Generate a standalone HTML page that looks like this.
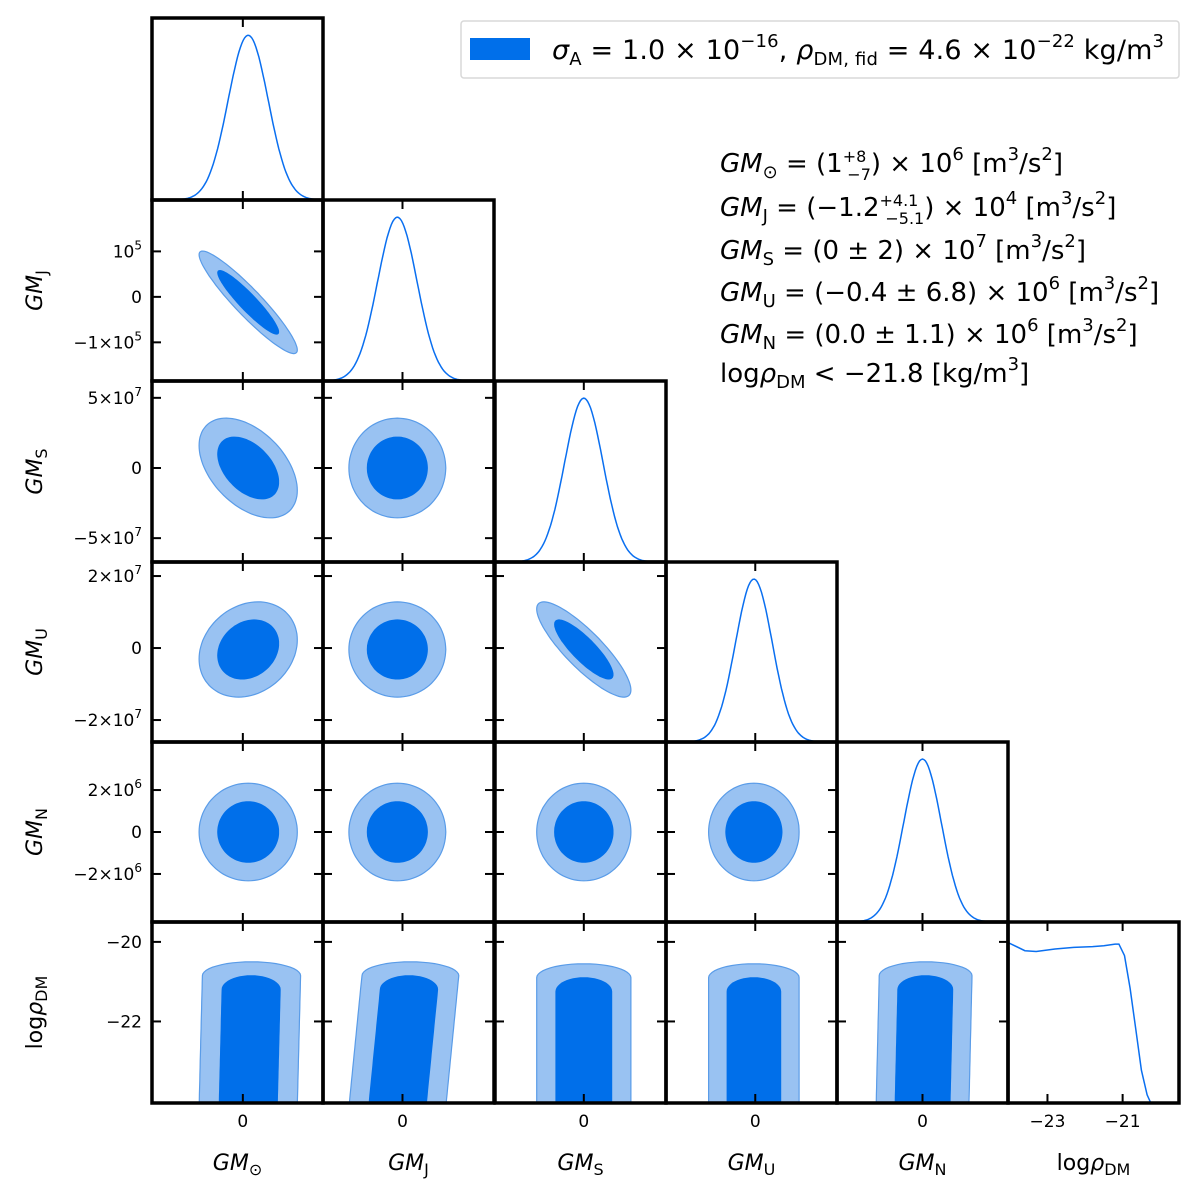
<!DOCTYPE html>
<html><head><meta charset="utf-8"><style>
body{margin:0;background:#fff}
svg{display:block;font-family:"DejaVu Sans","Liberation Sans",sans-serif}
</style></head><body>
<svg id="fig" width="1200" height="1199" viewBox="0 0 1200 1199" xmlns="http://www.w3.org/2000/svg">
<rect width="1200" height="1199" fill="#fff"/>
<g id="marks"></g>
<g id="frames"></g>
<g id="labels"></g>
<g>
<rect x="461" y="21" width="718" height="57" rx="3" fill="#fff" stroke="#d8d8d8" stroke-width="1.5"/>
<rect x="470" y="38" width="60" height="22" fill="#006fea"/>
<text x="552" y="59" font-size="27" fill="#000" textLength="612" lengthAdjust="spacing"><tspan font-style="italic">σ</tspan><tspan font-size="18" dy="6">A</tspan><tspan dy="-6"> = 1.0 × 10</tspan><tspan font-size="18" dy="-12">−16</tspan><tspan dy="12">, </tspan><tspan font-style="italic">ρ</tspan><tspan font-size="18" dy="6">DM, fid</tspan><tspan dy="-6"> = 4.6 × 10</tspan><tspan font-size="18" dy="-12">−22</tspan><tspan dy="12"> kg/m</tspan><tspan font-size="18" dy="-12">3</tspan></text>
</g>
<g font-size="26" fill="#000">
<text x="720" y="172"><tspan font-style="italic">GM</tspan><tspan font-size="18" dy="6">⊙</tspan><tspan dy="-6"> = (1</tspan><tspan font-size="16" dy="-10">+8</tspan><tspan font-size="16" dx="-19" dy="18">−7</tspan><tspan dy="-8">) × 10</tspan><tspan font-size="18" dy="-12">6</tspan><tspan dy="12"> [m</tspan><tspan font-size="18" dy="-12">3</tspan><tspan dy="12">/s</tspan><tspan font-size="18" dy="-12">2</tspan><tspan dy="12">]</tspan></text>
<text x="720" y="216"><tspan font-style="italic">GM</tspan><tspan font-size="18" dy="6">J</tspan><tspan dy="-6"> = (−1.2</tspan><tspan font-size="16" dy="-10">+4.1</tspan><tspan font-size="16" dx="-33" dy="18">−5.1</tspan><tspan dy="-8">) × 10</tspan><tspan font-size="18" dy="-12">4</tspan><tspan dy="12"> [m</tspan><tspan font-size="18" dy="-12">3</tspan><tspan dy="12">/s</tspan><tspan font-size="18" dy="-12">2</tspan><tspan dy="12">]</tspan></text>
<text x="720" y="259"><tspan font-style="italic">GM</tspan><tspan font-size="18" dy="6">S</tspan><tspan dy="-6"> = (0 ± 2) × 10</tspan><tspan font-size="18" dy="-12">7</tspan><tspan dy="12"> [m</tspan><tspan font-size="18" dy="-12">3</tspan><tspan dy="12">/s</tspan><tspan font-size="18" dy="-12">2</tspan><tspan dy="12">]</tspan></text>
<text x="720" y="301"><tspan font-style="italic">GM</tspan><tspan font-size="18" dy="6">U</tspan><tspan dy="-6"> = (−0.4 ± 6.8) × 10</tspan><tspan font-size="18" dy="-12">6</tspan><tspan dy="12"> [m</tspan><tspan font-size="18" dy="-12">3</tspan><tspan dy="12">/s</tspan><tspan font-size="18" dy="-12">2</tspan><tspan dy="12">]</tspan></text>
<text x="720" y="343"><tspan font-style="italic">GM</tspan><tspan font-size="18" dy="6">N</tspan><tspan dy="-6"> = (0.0 ± 1.1) × 10</tspan><tspan font-size="18" dy="-12">6</tspan><tspan dy="12"> [m</tspan><tspan font-size="18" dy="-12">3</tspan><tspan dy="12">/s</tspan><tspan font-size="18" dy="-12">2</tspan><tspan dy="12">]</tspan></text>
<text x="720" y="382">log<tspan font-style="italic">ρ</tspan><tspan font-size="18" dy="6">DM</tspan><tspan dy="-6"> &lt; −21.8 [kg/m</tspan><tspan font-size="18" dy="-12">3</tspan><tspan dy="12">]</tspan></text>
</g>
</svg>
<script>
// ---- data ----
const paramNames = ["sun","J","S","U","N","rho"];
const paramLo = [-34, -18.5, -6.7, -26.1, -4.29, -24.05];
const paramHi = [30, 21.3, 6.2, 23.9, 4.29, -19.5];
const paramMean = [2, -1.2, 0, -0.4, 0, -22];
const paramSigma = [7.5, 4.6, 1.45, 5.4, 0.95, 1];
// correlations [row][col] for row>col among first 5 params
const corrRows = [
  [],
  [-0.93],
  [-0.45, 0.0],
  [0.2, 0.0, -0.85],
  [0.0, 0.0, 0.0, 0.0]
];
// log rho marginal samples
const rhoGrid = [-24.05,-23.6,-23.3,-22.8,-22.3,-21.8,-21.5,-21.2,-21.1,-20.95,-20.8,-20.65,-20.5,-20.35,-20.25,-19.5];
const rhoDens = [0.98,0.93,0.925,0.94,0.95,0.955,0.96,0.97,0.97,0.9,0.7,0.45,0.2,0.05,0,0];
// bottom-row band tops (log rho) and skew (sigma shift per unit log rho)
const bandOuterTop = [-20.5,-20.5,-20.55,-20.55,-20.5];
const bandInnerTop = [-20.85,-20.85,-20.9,-20.9,-20.85];
const bandSkew = [0.05,0.2,0,0,0.05];
// tick labels
const yTickVals = [[],[10,0,-10],[5,0,-5],[20,0,-20],[2,0,-2],[-20,-22]];
const yTickText = [[],[["10","5"],["0",""],["−1×10","5"]],[["5×10","7"],["0",""],["−5×10","7"]],[["2×10","7"],["0",""],["−2×10","7"]],[["2×10","6"],["0",""],["−2×10","6"]],[["−20",""],["−22",""]]];
const xTickVals = [[0],[0],[0],[0],[0],[-23,-21]];
const xTickText = [["0"],["0"],["0"],["0"],["0"],["−23","−21"]];
const axisSubs = ["⊙","J","S","U","N","DM"];

// ---- layout ----
const colX=[152,323,495,666,837,1008], W=171;
const rowY=[18,200,381,562,742,922,1103];
const NS="http://www.w3.org/2000/svg";
const marks=document.getElementById('marks'), frames=document.getElementById('frames'), labels=document.getElementById('labels');
function el(t,a,p){const e=document.createElementNS(NS,t);for(const k in a)e.setAttribute(k,a[k]);p.appendChild(e);return e;}
function xs(i,v){return colX[i]+(v-paramLo[i])/(paramHi[i]-paramLo[i])*W;}
function ys(i,v){const t=rowY[i],b=rowY[i+1];return b-(v-paramLo[i])/(paramHi[i]-paramLo[i])*(b-t);}
const OUT="#99c2f2", OUTS="#5a9ce8", IN="#006fea", LINE="#0a6ff0";

function ellipse(r,c,rho,k){
  let d="";
  for(let j=0;j<=96;j++){const th=j/96*2*Math.PI;
    const u=paramMean[c]+k*paramSigma[c]*Math.cos(th);
    const v=paramMean[r]+k*paramSigma[r]*(rho*Math.cos(th)+Math.sqrt(1-rho*rho)*Math.sin(th));
    d+=(j?"L":"M")+xs(c,u).toFixed(1)+","+ys(r,v).toFixed(1);}
  return d+"Z";
}
function band(r,c,k,top){
  const bot=paramLo[5]-0.1, s=paramSigma[c], m=paramMean[c];
  const cap=0.35; let L=[],R=[];
  for(let j=0;j<=20;j++){const v=bot+(top-cap-bot)*j/20;const sh=bandSkew[c]*s*(v-bot);
    L.push([m+sh-k*s,v]);R.push([m+sh+k*s,v]);}
  const shT=bandSkew[c]*s*(top-cap-bot);
  let d="M"+L.map(p=>xs(c,p[0]).toFixed(1)+","+ys(5,p[1]).toFixed(1)).join("L");
  for(let j=0;j<=24;j++){const th=Math.PI-j/24*Math.PI;
    d+="L"+xs(c,m+shT+k*s*Math.cos(th)).toFixed(1)+","+ys(5,top-cap+cap*Math.sin(th)).toFixed(1);}
  d+="L"+R.reverse().map(p=>xs(c,p[0]).toFixed(1)+","+ys(5,p[1]).toFixed(1)).join("L")+"Z";
  return d;
}
const defs=el('defs',{},marks);
for(let r=0;r<6;r++)for(let c=0;c<=r;c++){
  const cp=el('clipPath',{id:'cp'+r+c},defs);
  el('rect',{x:colX[c],y:rowY[r],width:W,height:rowY[r+1]-rowY[r]},cp);
}
for(let r=1;r<6;r++)for(let c=0;c<r;c++){
  const g=el('g',{'clip-path':'url(#cp'+r+c+')'},marks);
  let dO,dI;
  if(r<5){dO=ellipse(r,c,corrRows[r][c],2.45);dI=ellipse(r,c,corrRows[r][c],1.52);}
  else{dO=band(r,c,2.45,bandOuterTop[c]);dI=band(r,c,1.45,bandInnerTop[c]);}
  const o=el('path',{d:dO,fill:OUT,stroke:OUTS,'stroke-width':1.2},g);
  
  
  const i=el('path',{d:dI,fill:IN,stroke:IN,'stroke-width':1},g);
  
  
}
for(let c=0;c<6;c++){
  const t=rowY[c],b=rowY[c+1],h=b-t;let d="";
  if(c<5){for(let j=0;j<=120;j++){const v=paramLo[c]+(paramHi[c]-paramLo[c])*j/120;
      const p=Math.exp(-0.5*Math.pow((v-paramMean[c])/paramSigma[c],2));
      d+=(j?"L":"M")+xs(c,v).toFixed(1)+","+(b-p*0.905*h).toFixed(1);}}
  else{rhoGrid.forEach((v,j)=>{d+=(j?"L":"M")+xs(5,v).toFixed(1)+","+(b-rhoDens[j]*0.905*h).toFixed(1);});}
  const g=el('g',{'clip-path':'url(#cp'+c+c+')'},marks);
  const p=el('path',{d:d,fill:'none',stroke:LINE,'stroke-width':1.5},g);
  
  
}
const TL=9;
for(let r=0;r<6;r++)for(let c=0;c<=r;c++){
  const t=rowY[r],b=rowY[r+1];
  xTickVals[c].forEach(v=>{const x=xs(c,v);
    el('line',{x1:x,y1:b,x2:x,y2:b-TL,stroke:'#000','stroke-width':2},frames);
    el('line',{x1:x,y1:t,x2:x,y2:t+TL,stroke:'#000','stroke-width':2},frames);});
  if(r!==c) yTickVals[r].forEach(v=>{const y=ys(r,v);
    el('line',{x1:colX[c],y1:y,x2:colX[c]+TL,y2:y,stroke:'#000','stroke-width':2},frames);
    el('line',{x1:colX[c]+W,y1:y,x2:colX[c]+W-TL,y2:y,stroke:'#000','stroke-width':2},frames);});
  const f=el('rect',{x:colX[c],y:t,width:W,height:b-t,fill:'none',stroke:'#000','stroke-width':3.5},frames);
  
  
}
for(let r=1;r<6;r++)yTickVals[r].forEach((v,j)=>{
  const tx=el('text',{x:142,y:ys(r,v)+6,'font-size':17,'text-anchor':'end'},labels);
  
  
  const [a,s]=yTickText[r][j];
  el('tspan',{},tx).textContent=a;
  if(s){const sp=el('tspan',{'font-size':12,dy:-8},tx);sp.textContent=s;}
});
for(let c=0;c<6;c++)xTickVals[c].forEach((v,j)=>{
  const tx=el('text',{x:xs(c,v),y:1127,'font-size':17,'text-anchor':'middle'},labels);
  
  
  tx.textContent=xTickText[c][j];
});
function title(parent,i,attrs){
  const tx=el('text',Object.assign({'font-size':22},attrs),parent);
  if(i<5){const a=el('tspan',{'font-style':'italic'},tx);a.textContent="GM";}
  else{const a=el('tspan',{},tx);a.textContent="log";const b=el('tspan',{'font-style':'italic'},tx);b.textContent="ρ";}
  const s=el('tspan',{'font-size':16,dy:5},tx);s.textContent=axisSubs[i];
  return tx;
}
for(let c=0;c<6;c++){
  const tx=title(labels,c,{x:colX[c]+W/2,y:1170,'text-anchor':'middle'});
  
  
}
for(let r=1;r<6;r++){
  const cy=(rowY[r]+rowY[r+1])/2;
  const tx=title(labels,r,{x:0,y:0,'text-anchor':'middle',transform:'translate(42,'+cy+') rotate(-90)'});
  
  
}
</script>
</body></html>
